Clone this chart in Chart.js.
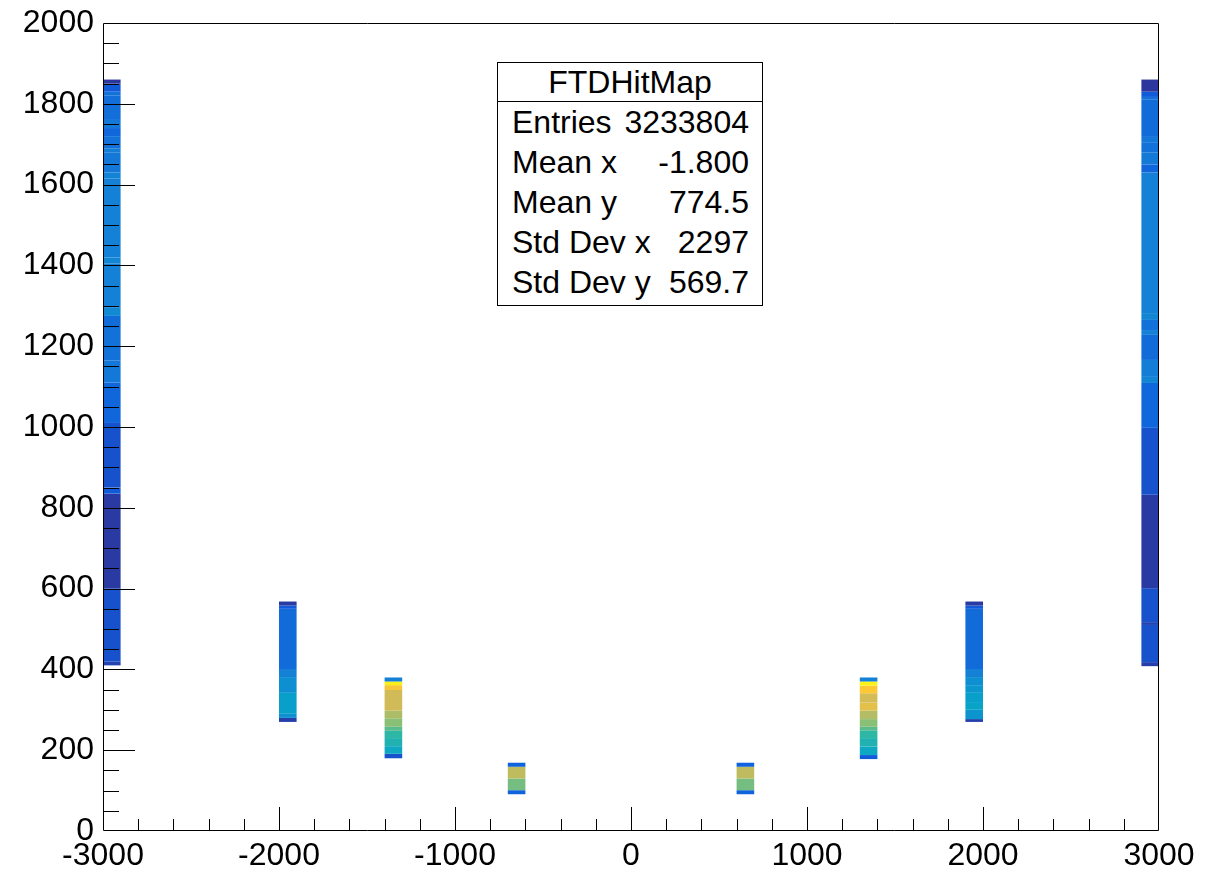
<!DOCTYPE html>
<html>
<head>
<meta charset="utf-8">
<script src="https://cdn.jsdelivr.net/npm/chart.js@4.4.0/dist/chart.umd.min.js"></script>
<style>
html,body{margin:0;padding:0;background:#fff;}
#wrap{position:relative;width:1216px;height:871px;overflow:hidden;}
#c{position:absolute;left:0;top:0;}
#stats{position:absolute;left:497px;top:62px;width:264px;height:242px;border:1px solid #000;background:#fff;
  font-family:"Liberation Sans",Arial,Helvetica,sans-serif;font-size:32px;color:#000;}
#stats .title{height:38px;line-height:38px;text-align:center;border-bottom:1px solid #000;}
#stats .row{height:40px;line-height:40px;display:flex;justify-content:space-between;padding:0 13px 0 14px;white-space:nowrap;}
</style>
</head>
<body>
<div id="wrap">
  <canvas id="c" width="1216" height="871"></canvas>
  <div id="stats"></div>
</div>
<script>
// ---------------- data ----------------
const histTitle = "FTDHitMap";
const statLabels = ["Entries", "Mean x", "Mean y", "Std Dev x", "Std Dev y"];
const statValues = ["3233804", "-1.800", "774.5", "2297", "569.7"];

const xTicks = [-3000, -2000, -1000, 0, 1000, 2000, 3000];
const yTicks = [0, 200, 400, 600, 800, 1000, 1200, 1400, 1600, 1800, 2000];
const binWidthX = 100;

// x bin centres of the filled columns
const colCenters = [-2950, -1950, -1350, -650, 650, 1350, 1950, 2950];
// y boundaries of the cell runs in each column (ascending)
const colEdges = [
  [410,420,600,835,850,1010,1110,1165,1245,1275,1295,1405,1420,1615,1630,1680,1690,1720,1740,1760,1820,1830,1850,1860],
  [270,280,290,342,381,401,550,558,568],
  [180,191,210,230,248,258,279,298,349,361,370,380],
  [91,101,130,159,169],
  [91,101,130,159,169],
  [178,188,209,230,248,258,277,298,318,341,360,370,380],
  [270,277,300,317,342,361,381,401,550,558,568],
  [408,418,510,517,601,832,998,1109,1124,1166,1228,1240,1265,1282,1630,1650,1680,1705,1718,1810,1817,1830,1860]
];
// normalised z (colour level 0..1) of each run
const colLevels = [
  [0.06,0.10,0.04,0.12,0.10,0.16,0.22,0.20,0.18,0.28,0.25,0.27,0.25,0.26,0.22,0.24,0.20,0.16,0.22,0.19,0.20,0.12,0.03],
  [0.05,0.30,0.36,0.30,0.25,0.18,0.12,0.04],
  [0.10,0.40,0.46,0.50,0.56,0.63,0.69,0.75,0.86,0.97,0.25],
  [0.15,0.60,0.72,0.15],
  [0.15,0.60,0.72,0.15],
  [0.12,0.40,0.46,0.50,0.56,0.63,0.70,0.80,0.76,0.87,0.98,0.25],
  [0.05,0.32,0.38,0.36,0.33,0.30,0.25,0.18,0.12,0.04],
  [0.05,0.10,0.06,0.10,0.04,0.10,0.16,0.27,0.24,0.18,0.25,0.20,0.27,0.25,0.16,0.23,0.20,0.22,0.18,0.20,0.12,0.03]
];

// ---------------- palette (ROOT kBird) ----------------
const birdStops = [
  [0.000,0.2082,0.1664,0.5293],[0.125,0.0592,0.3599,0.8684],[0.250,0.0780,0.5041,0.8385],
  [0.375,0.0232,0.6419,0.7914],[0.500,0.1802,0.7178,0.6425],[0.625,0.5301,0.7492,0.4662],
  [0.750,0.8186,0.7328,0.3499],[0.875,0.9956,0.7862,0.1968],[1.000,0.9764,0.9832,0.0539]
];
function birdColor(t){
  t = Math.max(0, Math.min(1, t));
  for (let i = 0; i < birdStops.length - 1; i++){
    const a = birdStops[i], b = birdStops[i+1];
    if (t <= b[0]){
      const f = (t - a[0]) / (b[0] - a[0]);
      const c = [1,2,3].map(k => Math.round(255 * (a[k] + f * (b[k] - a[k]))));
      return `rgb(${c[0]},${c[1]},${c[2]})`;
    }
  }
  const l = birdStops[birdStops.length-1];
  return `rgb(${Math.round(l[1]*255)},${Math.round(l[2]*255)},${Math.round(l[3]*255)})`;
}

// ---------------- build dataset ----------------
const cells = [], cellColors = [];
colCenters.forEach((cx, i) => {
  const e = colEdges[i];
  colLevels[i].forEach((lv, j) => {
    cells.push({x: cx, y: [e[j], e[j+1]]});
    cellColors.push(birdColor(lv));
  });
});

// stats box (real text)
(function(){
  const box = document.getElementById('stats');
  let html = `<div class="title">${histTitle}</div>`;
  statLabels.forEach((l, i) => { html += `<div class="row"><span>${l}</span><span>${statValues[i]}</span></div>`; });
  box.innerHTML = html;
})();

// ---------------- ROOT-style frame & inner ticks ----------------
const frameTicks = {
  id: 'frameTicks',
  afterDatasetsDraw(chart){
    const {ctx, chartArea: a, scales: {x, y}} = chart;
    ctx.save();
    ctx.strokeStyle = '#000';
    ctx.lineWidth = 1;
    ctx.beginPath();
    for (let v = x.min + 200; v < x.max - 1e-6; v += 200){
      const px = Math.round(x.getPixelForValue(v)) + 0.5;
      const len = (Math.abs(v % 1000) < 1e-6) ? 24 : 12;
      ctx.moveTo(px, a.bottom); ctx.lineTo(px, a.bottom - len);
    }
    for (let v = y.min + 50; v < y.max - 1e-6; v += 50){
      const py = Math.round(y.getPixelForValue(v)) + 0.5;
      const len = (Math.abs(v % 200) < 1e-6) ? 32 : 16;
      ctx.moveTo(a.left, py); ctx.lineTo(a.left + len, py);
    }
    ctx.stroke();
    ctx.beginPath();
    const L = Math.round(a.left) + 0.5, R = Math.round(a.right) - 0.5;
    const T = Math.round(a.top) + 0.5, B = Math.round(a.bottom) - 0.5;
    ctx.moveTo(L, T); ctx.lineTo(R, T); ctx.lineTo(R, B); ctx.lineTo(L, B); ctx.closePath();
    ctx.stroke();
    ctx.restore();
  }
};

const tickFont = {family: '"Liberation Sans", Arial, Helvetica, sans-serif', size: 32};

const chart = new Chart(document.getElementById('c'), {
  type: 'bar',
  data: {
    datasets: [{
      data: cells,
      backgroundColor: cellColors,
      borderWidth: 0,
      inflateAmount: 0,
      grouped: false
    }]
  },
  options: {
    responsive: false,
    animation: false,
    devicePixelRatio: 1,
    layout: {padding: {top: 23, right: 57, left: 0, bottom: 0}},
    plugins: {legend: {display: false}, tooltip: {enabled: false}, title: {display: false}},
    scales: {
      x: {
        type: 'linear', min: -3000, max: 3000, offset: false,
        afterBuildTicks: s => { s.ticks = xTicks.map(v => ({value: v})); },
        afterFit: s => { s.height = 40; s.paddingLeft = 0; s.paddingRight = 0; },
        grid: {display: false, drawTicks: false},
        border: {display: false},
        ticks: {color: '#000', font: tickFont, padding: 6, maxRotation: 0, autoSkip: false,
                callback: v => String(v)}
      },
      y: {
        type: 'linear', min: 0, max: 2000,
        afterBuildTicks: s => { s.ticks = yTicks.map(v => ({value: v})); },
        afterFit: s => { s.width = 103; s.paddingTop = 0; s.paddingBottom = 0; },
        grid: {display: false, drawTicks: false},
        border: {display: false},
        ticks: {color: '#000', font: tickFont, padding: 9, autoSkip: false,
                callback: v => String(v)}
      }
    }
  },
  plugins: [frameTicks]
});

const xs = chart.scales.x;
chart.data.datasets[0].barThickness = Math.abs(xs.getPixelForValue(binWidthX) - xs.getPixelForValue(0));
chart.update('none');
</script>
</body>
</html>
